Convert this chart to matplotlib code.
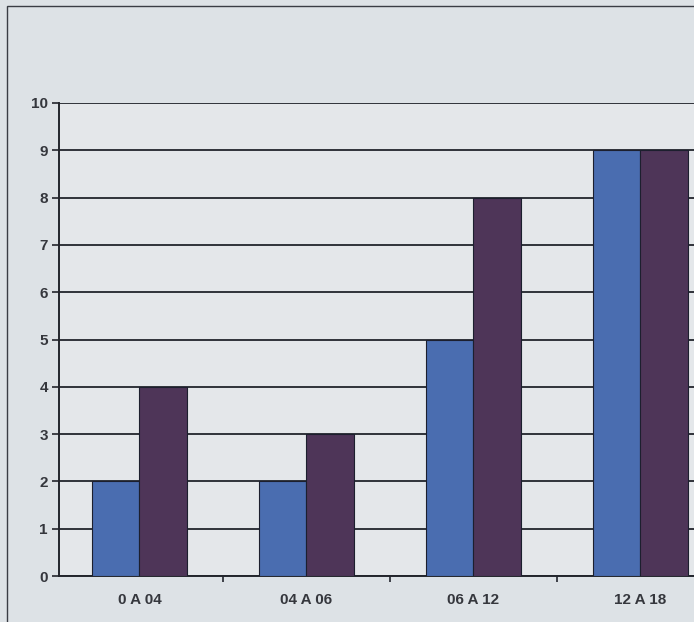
import numpy as np
import matplotlib.pyplot as plt
from matplotlib.patches import Rectangle

categories = ["0 A 04", "04 A 06", "06 A 12", "12 A 18"]
series_a = [2, 2, 5, 9]
series_b = [4, 3, 8, 9]

plt.rcParams['font.family'] = ['Liberation Sans', 'DejaVu Sans']

fig = plt.figure(figsize=(6.94, 6.22), dpi=100)
fig.patch.set_facecolor('#dde2e6')

# outer frame of the printed chart
fig.patches.append(Rectangle((7 / 694, -0.1), 1.2, 1 - 6 / 622 + 0.1,
                             transform=fig.transFigure, fill=False,
                             edgecolor='#3a3d44', linewidth=1.0))

# plot area runs past the right edge of the picture
ax = fig.add_axes([59 / 694, 46 / 622, 668 / 694, 473 / 622])
ax.set_facecolor('#e4e7ea')

x = np.arange(len(categories))
w = 0.287
ax.bar(x - w / 2, series_a, w, color='#4a6db0', edgecolor='#1c1f2e', linewidth=0.8, zorder=3)
ax.bar(x + w / 2, series_b, w, color='#4e3558', edgecolor='#1c1f2e', linewidth=0.8, zorder=3)

ax.set_xlim(-0.482, 3.518)
ax.set_ylim(0, 10)
ax.set_yticks(range(0, 11))
ax.yaxis.grid(True, color='#22252c', linewidth=1.3, zorder=0)
ax.set_axisbelow(True)

ax.set_xticks(x)
ax.set_xticklabels(categories, fontsize=11, fontweight='bold', color='#35373d')
ax.set_xticks(np.arange(0.5, len(categories) - 0.5), minor=True)
ax.tick_params(axis='x', which='major', length=0, pad=12)
ax.tick_params(axis='x', which='minor', length=4, width=1.2, color='#22252c')
ax.tick_params(axis='y', length=5, width=1.2, color='#22252c', pad=3,
               labelsize=11, labelcolor='#35373d')
for lab in ax.get_yticklabels():
    lab.set_fontweight('bold')

for s in ['top', 'right']:
    ax.spines[s].set_visible(False)
for s in ['left', 'bottom']:
    ax.spines[s].set_color('#22252c')
    ax.spines[s].set_linewidth(1.4)

fig.savefig('out.png', dpi=100, facecolor=fig.get_facecolor())
